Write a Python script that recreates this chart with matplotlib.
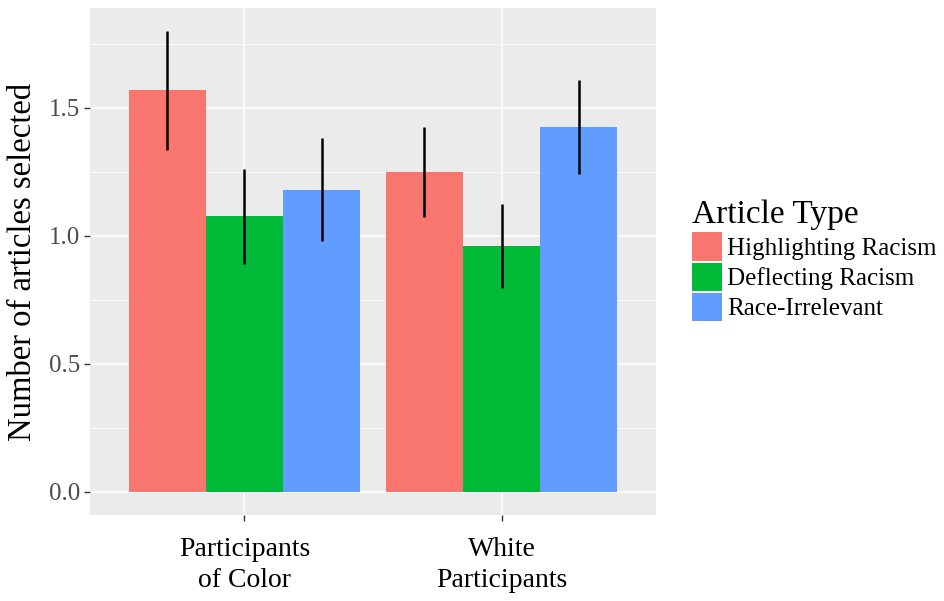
import numpy as np
import matplotlib.pyplot as plt
from matplotlib.patches import Patch

# mean number of articles selected, with 95% CI bounds
groups     = ['Participants\nof Color', 'White\nParticipants']
art_types  = ['Highlighting Racism', 'Deflecting Racism', 'Race-Irrelevant']
means_poc   = [1.570, 1.077, 1.180]
lower_poc   = [1.337, 0.891, 0.979]
upper_poc   = [1.802, 1.262, 1.383]
means_white = [1.250, 0.959, 1.424]
lower_white = [1.074, 0.797, 1.242]
upper_white = [1.424, 1.123, 1.608]

ccolors = ['#F8766D', '#00BA38', '#619CFF']
plt.rcParams['font.family'] = ['Liberation Serif', 'DejaVu Serif']

means = np.array([means_poc, means_white])
lower = np.array([lower_poc, lower_white])
upper = np.array([upper_poc, upper_white])

fig = plt.figure(figsize=(9.45, 6.01), dpi=100)
ax = fig.add_axes([90/945, 86/601, 566/945, 507/601])
ax.set_facecolor('#EBEBEB')

# grid like ggplot2 theme_grey
for y in [0.25, 0.75, 1.25, 1.75]:
    ax.axhline(y, color='white', linewidth=0.6, zorder=0)
for y in [0.0, 0.5, 1.0, 1.5]:
    ax.axhline(y, color='white', linewidth=1.2, zorder=0)
xc = np.array([1, 2])
for x in xc:
    ax.axvline(x, color='white', linewidth=1.2, zorder=0)

w = 0.3
for k in range(3):
    xpos = xc + (k - 1) * w
    ax.bar(xpos, means[:, k], width=w, color=ccolors[k], zorder=2)
    ax.vlines(xpos, lower[:, k], upper[:, k], color='black', linewidth=1.8, zorder=3)

ax.set_xlim(0.4, 2.6)
ax.set_ylim(-0.09, 1.89)
ax.set_yticks([0.0, 0.5, 1.0, 1.5])
ax.set_yticklabels(['0.0', '0.5', '1.0', '1.5'], fontsize=18, color='#4D4D4D')
ax.set_xticks(xc)
ax.set_xticklabels(groups, fontsize=20, color='black', linespacing=1.3)
ax.tick_params(axis='both', length=4, width=1, color='#333333')
ax.tick_params(axis='x', pad=12)
ax.tick_params(axis='y', pad=3)
for s in ax.spines.values():
    s.set_visible(False)
ax.set_ylabel('Number of articles selected', fontsize=23.5, labelpad=8)

handles = [Patch(facecolor=c, edgecolor='none') for c in ccolors]
leg = fig.legend(handles, art_types, title='Article Type', loc='upper left',
                 bbox_to_anchor=(682/945, 1 - 190/601), frameon=False,
                 fontsize=18, title_fontsize=24, handlelength=1.2, handleheight=1.35,
                 handletextpad=0.2, labelspacing=0.08, borderaxespad=0)
leg._legend_box.align = 'left'

fig.savefig('out.png', dpi=100)
